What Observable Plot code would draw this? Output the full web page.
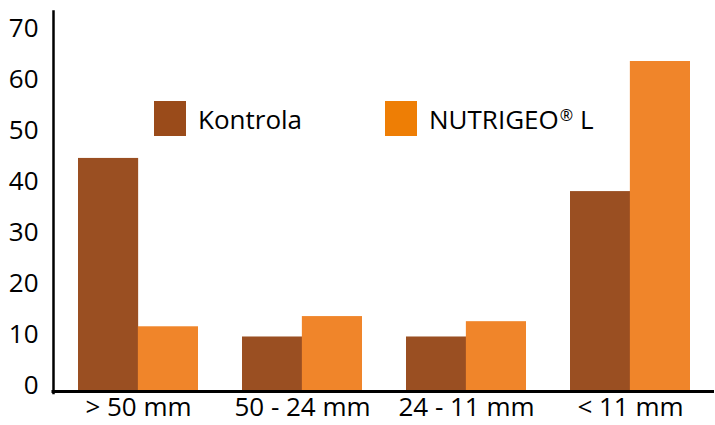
<!DOCTYPE html>
<html>
<head>
<meta charset="utf-8">
<script src="https://cdn.jsdelivr.net/npm/d3@7"></script>
<script src="https://cdn.jsdelivr.net/npm/@observablehq/plot@0.6"></script>
<style>
  body { margin: 0; background: #fff; }
  #wrap { position: relative; width: 715px; height: 425px; font-family: "Open Sans", sans-serif; }
  #wrap svg { display: block; }
  .legend-item { position: absolute; top: 101px; height: 35px; display: flex; align-items: center; font-size: 26px; color: #000; white-space: nowrap; }
  .sw { width: 32px; height: 35px; margin-right: 12px; flex: none; }
  .reg { font-size: 0.62em; position: relative; top: -0.45em; margin-left: 1px; }
</style>
</head>
<body>
<div id="wrap"></div>
<script>
const categories = ["> 50 mm", "50 - 24 mm", "24 - 11 mm", "< 11 mm"];
const seriesNames = ["Kontrola", "NUTRIGEO® L"];
const kontrola = [45, 10, 10, 38.5];
const nutrigeo = [12, 14, 13, 64];
const yTicks = [0, 10, 20, 30, 40, 50, 60, 70];

const barColors = ["#9A4F22", "#F0852A"];
const legendColors = ["#9A4B1A", "#EE7E05"];

const W = 715, H = 425, ML = 53, MR = 1, MT = 11, MB = 37.5;
const padIn = 0.271, padOut = 0.148;
const step = (W - ML - MR) / (categories.length - padIn + 2 * padOut);
const half = step * (1 - padIn) / 2;

const data = categories.flatMap((c, i) => [
  {category: c, series: seriesNames[0], value: kontrola[i]},
  {category: c, series: seriesNames[1], value: nutrigeo[i]}
]);

const chart = Plot.plot({
  width: W,
  height: H,
  marginLeft: ML,
  marginRight: MR,
  marginTop: MT,
  marginBottom: MB,
  style: {fontFamily: "'Open Sans', sans-serif", fontSize: "26px", color: "#000", background: "#fff", overflow: "visible"},
  x: {domain: categories, paddingInner: padIn, paddingOuter: padOut, axis: null},
  y: {domain: [0, 73.8], axis: null},
  color: {domain: seriesNames, range: barColors},
  marks: [
    Plot.barY(data.filter(d => d.series === seriesNames[0]), {x: "category", y: "value", fill: "series", insetRight: half, insetBottom: -3}),
    Plot.barY(data.filter(d => d.series === seriesNames[1]), {x: "category", y: "value", fill: "series", insetLeft: half, insetBottom: -3}),
    Plot.axisX({anchor: "bottom", tickSize: 0, tickPadding: 10, label: null, fontSize: 26}),
    Plot.axisY({anchor: "left", ticks: yTicks, tickSize: 0, tickPadding: 15, dy: -2, label: null, fontSize: 26}),
    Plot.frame({anchor: "left", stroke: "#000", strokeWidth: 2.5, insetBottom: -5}),
    Plot.ruleY([0], {stroke: "#000", strokeWidth: 3, dy: 3.5, insetLeft: -1.5})
  ]
});

const wrap = document.getElementById("wrap");
wrap.appendChild(chart);

const legendLefts = [154, 385];
seriesNames.forEach((name, i) => {
  const item = document.createElement("div");
  item.className = "legend-item";
  item.style.left = legendLefts[i] + "px";
  const sw = document.createElement("span");
  sw.className = "sw";
  sw.style.background = legendColors[i];
  item.appendChild(sw);
  const label = document.createElement("span");
  if (name.includes("®")) {
    const [a, b] = name.split("®");
    label.append(a);
    const r = document.createElement("span");
    r.className = "reg";
    r.textContent = "®";
    label.append(r);
    label.append(b);
  } else {
    label.textContent = name;
  }
  item.appendChild(label);
  wrap.appendChild(item);
});
</script>
</body>
</html>
